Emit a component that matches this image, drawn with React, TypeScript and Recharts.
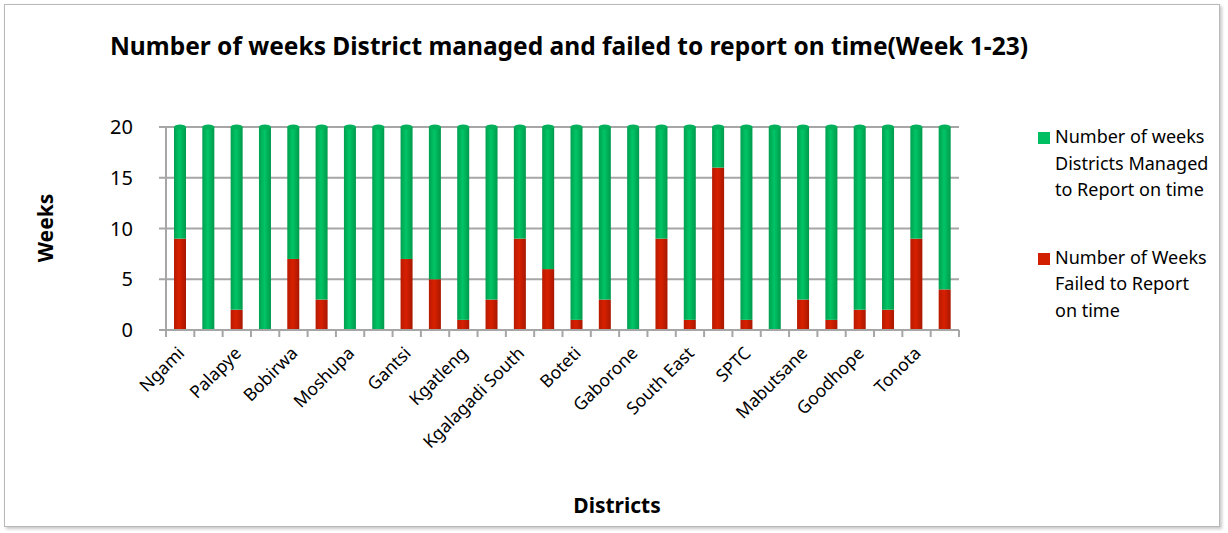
import { BarChart, Bar, XAxis, YAxis, CartesianGrid } from 'recharts'

const districts = [
  'Ngami', '', 'Palapye', '', 'Bobirwa', '', 'Moshupa', '', 'Gantsi', '', 'Kgatleng', '',
  'Kgalagadi South', '', 'Boteti', '', 'Gaborone', '', 'South East', '', 'SPTC', '',
  'Mabutsane', '', 'Goodhope', '', 'Tonota', '',
]
const failedWeeks = [9, 0, 2, 0, 7, 3, 0, 0, 7, 5, 1, 3, 9, 6, 1, 3, 0, 9, 1, 16, 1, 0, 3, 1, 2, 2, 9, 4]
const managedWeeks = [11, 20, 18, 20, 13, 17, 20, 20, 13, 15, 19, 17, 11, 14, 19, 17, 20, 11, 19, 4, 19, 20, 17, 19, 18, 18, 11, 16]
const yTicks = [0, 5, 10, 15, 20]

const chartData = districts.map((d, i) => ({ district: d, failed: failedWeeks[i], managed: managedWeeks[i] }))

const FONT = '"Noto Sans", "Open Sans", sans-serif'
const PLOT_LEFT = 166
const PLOT_RIGHT = 959
const STEP = (PLOT_RIGHT - PLOT_LEFT) / districts.length

function DistrictTick(props: any) {
  const { x, y, payload, index } = props
  return (
    <g>
      <line x1={x - STEP / 2} x2={x - STEP / 2} y1={y} y2={y + 7} stroke="#a6a6a6" strokeWidth={2} />
      {index === districts.length - 1 && (
        <line x1={x + STEP / 2} x2={x + STEP / 2} y1={y} y2={y + 7} stroke="#a6a6a6" strokeWidth={2} />
      )}
      {payload.value && (
        <text
          transform={`translate(${x + 1},${y + 20}) rotate(-45)`}
          textAnchor="end"
          dy="0.35em"
          fontSize={17.5}
          fontFamily={FONT}
          fill="#000"
        >
          {payload.value}
        </text>
      )}
    </g>
  )
}

function Cylinder(props: any) {
  const { x, y, width, height, gradient, cap, top } = props
  if (!height || height <= 0) return null
  return (
    <g>
      <rect x={x} y={y} width={width} height={height} fill={`url(#${gradient})`} />
      {top && <ellipse cx={x + width / 2} cy={y} rx={width / 2} ry={2.5} fill={cap} />}
    </g>
  )
}

export default function App() {
  return (
    <div style={{ position: 'absolute', left: 0, top: 0, width: 1228, height: 533, background: '#fff' }}>
      <div
        style={{
          position: 'absolute', left: 4, top: 4, width: 1214, height: 521,
          border: '1px solid #b8b8b8', boxShadow: '2px 2px 3px #c8c8c8',
        }}
      />
      <div
        style={{
          position: 'absolute', left: 0, width: 1138, top: 29, textAlign: 'center',
          fontFamily: FONT, fontWeight: 'bold', fontSize: 24.5, color: '#000', whiteSpace: 'nowrap',
        }}
      >
        Number of weeks District managed and failed to report on time(Week 1-23)
      </div>
      <div
        style={{
          position: 'absolute', left: 45, top: 228, transform: 'translate(-50%,-50%) rotate(-90deg)',
          fontFamily: FONT, fontWeight: 'bold', fontSize: 21, color: '#000',
        }}
      >
        Weeks
      </div>
      <div
        style={{
          position: 'absolute', left: 617, top: 505, transform: 'translate(-50%,-50%)',
          fontFamily: FONT, fontWeight: 'bold', fontSize: 21, color: '#000',
        }}
      >
        Districts
      </div>
      <div style={{ position: 'absolute', left: 1038, top: 123, fontFamily: FONT, fontSize: 18, lineHeight: '26.5px', color: '#000', whiteSpace: 'nowrap' }}>
        <div style={{ position: 'relative', paddingLeft: 17 }}>
          <span style={{ position: 'absolute', left: 0, top: 9, width: 12, height: 12, background: '#00BF63' }} />
          Number of weeks<br />Districts Managed<br />to Report on time
        </div>
        <div style={{ position: 'relative', paddingLeft: 17, marginTop: 41 }}>
          <span style={{ position: 'absolute', left: 0, top: 9, width: 12, height: 12, background: '#D11F00' }} />
          Number of Weeks<br />Failed to Report<br />on time
        </div>
      </div>
      <div style={{ position: 'absolute', left: 0, top: 0 }}>
        <BarChart
          width={1228}
          height={533}
          data={chartData}
          margin={{ top: 127, right: 1228 - PLOT_RIGHT, left: PLOT_LEFT - 60, bottom: 93 }}
        >
          <defs>
            <linearGradient id="gradGreen" x1="0" y1="0" x2="1" y2="0">
              <stop offset="0%" stopColor="#00a050" />
              <stop offset="45%" stopColor="#00c566" />
              <stop offset="100%" stopColor="#009a4c" />
            </linearGradient>
            <linearGradient id="gradRed" x1="0" y1="0" x2="1" y2="0">
              <stop offset="0%" stopColor="#b81a00" />
              <stop offset="45%" stopColor="#d72000" />
              <stop offset="100%" stopColor="#a81700" />
            </linearGradient>
          </defs>
          <CartesianGrid vertical={false} stroke="#a6a6a6" strokeWidth={2} />
          <XAxis
            dataKey="district"
            interval={0}
            height={110}
            tickLine={false}
            tickSize={0}
            tickMargin={0}
            axisLine={{ stroke: '#a6a6a6', strokeWidth: 2 }}
            tick={<DistrictTick />}
          />
          <YAxis
            width={60}
            domain={[0, 20]}
            ticks={yTicks}
            tickSize={7}
            tickMargin={26}
            axisLine={{ stroke: '#a6a6a6', strokeWidth: 2 }}
            tickLine={{ stroke: '#a6a6a6', strokeWidth: 2 }}
            tick={{ fontSize: 20, fill: '#000', fontFamily: FONT }}
          />
          <Bar
            dataKey="failed"
            stackId="a"
            barSize={12}
            isAnimationActive={false}
            fill="#D11F00"
            shape={(p: any) => <Cylinder {...p} gradient="gradRed" cap="#c01c00" top={p.payload.managed === 0} />}
          />
          <Bar
            dataKey="managed"
            stackId="a"
            barSize={12}
            isAnimationActive={false}
            fill="#00BF63"
            shape={(p: any) => <Cylinder {...p} gradient="gradGreen" cap="#00b05a" top />}
          />
        </BarChart>
      </div>
    </div>
  )
}
